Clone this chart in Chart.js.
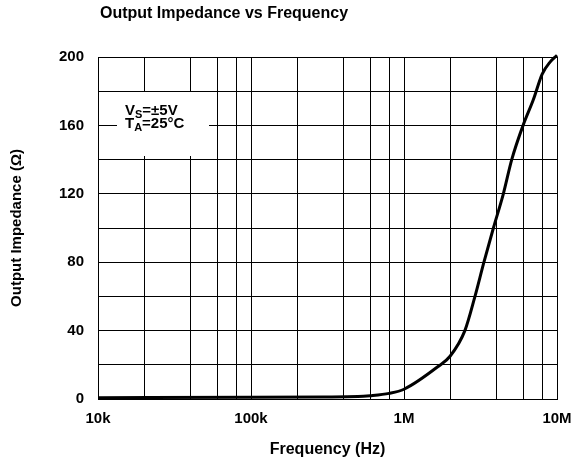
<!DOCTYPE html>
<html>
<head>
<meta charset="utf-8">
<script src="https://cdn.jsdelivr.net/npm/chart.js@4"></script>
<style>
  html, body { margin: 0; padding: 0; background: #fff; }
  #wrap { width: 574px; height: 464px; }
</style>
</head>
<body>
<div id="wrap"><canvas id="impedanceChart" width="574" height="464"></canvas></div>
<script>
// frequency (Hz) and output impedance (ohm)
var frequency = [1e4, 1e5, 3e5, 5e5, 6e5, 8e5, 1e6, 1.67e6, 2e6, 2.5e6, 2.91e6, 3.33e6, 3.84e6, 4.46e6, 5.06e6, 6e6, 7e6, 8e6, 9e6, 1e7];
var impedance = [0.8, 1.0, 1.2, 1.4, 1.9, 3.3, 5.7, 19, 25, 40, 60, 80, 100, 120, 140, 160, 175, 190, 197, 201];

// x grid lines (1, 2, 4, 6, 8 per decade) and decade labels
var xGridValues = [1e4, 2e4, 4e4, 6e4, 8e4, 1e5, 2e5, 4e5, 6e5, 8e5, 1e6, 2e6, 4e6, 6e6, 8e6, 1e7];
var xTickLabels = { 10000: '10k', 100000: '100k', 1000000: '1M', 10000000: '10M' };
var yLabelValues = [0, 40, 80, 120, 160, 200];

var FONT = "'Liberation Sans', Arial, sans-serif";

function buildPoints()
{
    var pts = [];
    for (var i = 0; i < frequency.length; i++) {
        pts.push({ x: frequency[i], y: impedance[i] });
    }
    return pts;
}

var decorations = {
    id: 'decorations',
    beforeDatasetsDraw: function(chart) {
        var ctx = chart.ctx;
        var a = chart.chartArea;
        ctx.save();
        // conditions box
        ctx.fillStyle = '#fff';
        ctx.fillRect(a.left + 19, a.top + 35, 92, 64);
        ctx.fillStyle = '#000';
        ctx.textBaseline = 'alphabetic';
        drawSub(ctx, a.left + 27, a.top + 58, 'V', 'S', '=\u00b15V');
        drawSub(ctx, a.left + 27, a.top + 71, 'T', 'A', '=25\u00b0C');
        ctx.restore();
    },
    afterDraw: function(chart) {
        var ctx = chart.ctx;
        ctx.save();
        ctx.fillStyle = '#000';
        ctx.font = 'bold 16px ' + FONT;
        ctx.textBaseline = 'middle';
        ctx.fillText('Output Impedance vs Frequency', chart.chartArea.left + 2, 14);
        ctx.restore();
    }
};

function drawSub(ctx, x, y, main, sub, rest)
{
    ctx.font = 'bold 15px ' + FONT;
    ctx.fillText(main, x, y);
    x += ctx.measureText(main).width;
    ctx.font = 'bold 11px ' + FONT;
    ctx.fillText(sub, x, y + 3);
    x += ctx.measureText(sub).width;
    ctx.font = 'bold 15px ' + FONT;
    ctx.fillText(rest, x, y);
}

var ctx = document.getElementById('impedanceChart').getContext('2d');

var myChart = new Chart(ctx, {
    type: 'line',
    data: {
        datasets: [
            {
            label: 'Output Impedance',
            data: buildPoints(),
            borderColor: '#000',
            borderWidth: 3,
            pointRadius: 0,
            cubicInterpolationMode: 'monotone',
            fill: false,
            clip: false
        },
    ]
    },
    options: {
        responsive: false,
        animation: false,
        layout: { padding: { top: 57, right: 17, left: 0, bottom: 0 } },
        plugins: {
            legend: { display: false },
            title: { display: false },
            tooltip: { enabled: false }
        },
        scales: {
            x: {
                type: 'logarithmic',
                min: 1e4,
                max: 1e7,
                afterBuildTicks: function(scale) {
                    scale.ticks = xGridValues.map(function(v) { return { value: v }; });
                },
                afterFit: function(scale) {
                    scale.height = 65;
                    scale.paddingLeft = 0;
                    scale.paddingRight = 0;
                },
                grid: { color: '#000', lineWidth: 1, drawTicks: false },
                border: { color: '#000', width: 1 },
                ticks: {
                    autoSkip: false,
                    maxRotation: 0,
                    padding: 11,
                    color: '#000',
                    font: { family: FONT, size: 15, weight: 'bold' },
                    callback: function(value) {
                        return xTickLabels[value] || '';
                    }
                },
                title: {
                    display: true,
                    text: 'Frequency (Hz)',
                    color: '#000',
                    font: { family: FONT, size: 16, weight: 'bold' },
                    padding: { top: 0, bottom: 5 }
                }
            },
            y: {
                min: 0,
                max: 200,
                afterFit: function(scale) { scale.width = 98; },
                grid: { color: '#000', lineWidth: 1, drawTicks: false },
                border: { color: '#000', width: 1 },
                ticks: {
                    stepSize: 20,
                    padding: 14,
                    color: '#000',
                    font: { family: FONT, size: 15, weight: 'bold' },
                    callback: function(value) {
                        return yLabelValues.indexOf(value) >= 0 ? value : '';
                    }
                },
                title: {
                    display: true,
                    text: 'Output Impedance (\u03a9)',
                    color: '#000',
                    font: { family: FONT, size: 15, weight: 'bold' },
                    padding: { top: 8, bottom: 0 }
                }
            }
        }
    },
    plugins: [decorations]
});
</script>
</body>
</html>
